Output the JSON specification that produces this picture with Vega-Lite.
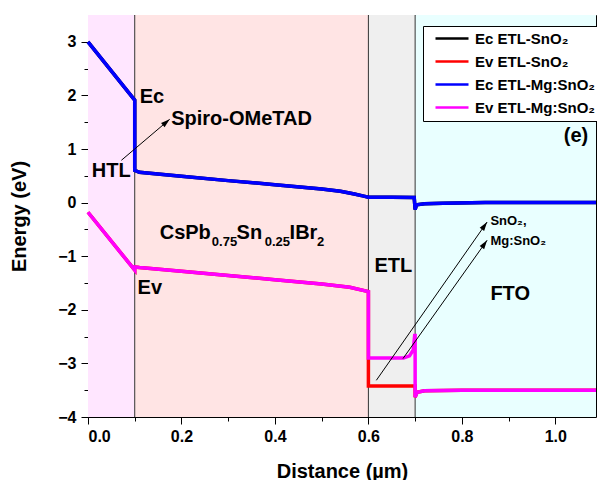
{
  "$schema": "https://vega.github.io/schema/vega-lite/v6.json",
  "width": 508,
  "height": 402,
  "autosize": {"type": "none"},
  "padding": {"left": 88, "top": 15, "right": 1, "bottom": 63},
  "background": "white",
  "config": {
    "view": {"stroke": null},
    "font": "Liberation Sans",
    "axis": {
      "labelFont": "Liberation Sans", "labelFontWeight": "bold", "labelFontSize": 16, "labelColor": "black",
      "titleFont": "Liberation Sans", "titleFontWeight": "bold", "titleFontSize": 20, "titleColor": "black",
      "tickColor": "black", "domainColor": "black", "grid": false, "zindex": 1
    },
    "legend": {
      "title": null, "orient": "none", "legendX": 335, "legendY": 11, "strokeColor": "black", "fillColor": "white", "padding": 5,
      "labelFont": "Liberation Sans", "labelFontWeight": "bold", "labelFontSize": 15, "labelColor": "black",
      "symbolType": "M0,0 L6.6,0", "symbolSize": 100, "symbolStrokeWidth": 2.5, "rowPadding": 7, "labelOffset": 32
    }
  },
  "datasets": {
    "regions": [
      {"r": "HTL", "x": 0, "x2": 0.1},
      {"r": "PVK", "x": 0.1, "x2": 0.6},
      {"r": "ETL", "x": 0.6, "x2": 0.7},
      {"r": "FTO", "x": 0.7, "x2": 1.087}
    ],
    "bounds": [{"x": 0.1}, {"x": 0.6}, {"x": 0.7}],
    "bands": [
      {"k": "ecS", "s": "Ec ETL-SnO₂", "o": 0, "x": 0, "y": 3.0},
      {"k": "ecS", "s": "Ec ETL-SnO₂", "o": 1, "x": 0.1, "y": 1.91},
      {"k": "ecS", "s": "Ec ETL-SnO₂", "o": 2, "x": 0.1, "y": 0.6},
      {"k": "ecS", "s": "Ec ETL-SnO₂", "o": 3, "x": 0.11, "y": 0.565},
      {"k": "ecS", "s": "Ec ETL-SnO₂", "o": 4, "x": 0.2, "y": 0.49},
      {"k": "ecS", "s": "Ec ETL-SnO₂", "o": 5, "x": 0.3, "y": 0.41},
      {"k": "ecS", "s": "Ec ETL-SnO₂", "o": 6, "x": 0.4, "y": 0.335},
      {"k": "ecS", "s": "Ec ETL-SnO₂", "o": 7, "x": 0.5, "y": 0.255},
      {"k": "ecS", "s": "Ec ETL-SnO₂", "o": 8, "x": 0.54, "y": 0.21},
      {"k": "ecS", "s": "Ec ETL-SnO₂", "o": 9, "x": 0.57, "y": 0.16},
      {"k": "ecS", "s": "Ec ETL-SnO₂", "o": 10, "x": 0.59, "y": 0.12},
      {"k": "ecS", "s": "Ec ETL-SnO₂", "o": 11, "x": 0.6, "y": 0.1},
      {"k": "ecS", "s": "Ec ETL-SnO₂", "o": 12, "x": 0.65, "y": 0.1},
      {"k": "ecS", "s": "Ec ETL-SnO₂", "o": 13, "x": 0.698, "y": 0.095},
      {"k": "ecS", "s": "Ec ETL-SnO₂", "o": 14, "x": 0.7, "y": -0.13},
      {"k": "ecS", "s": "Ec ETL-SnO₂", "o": 15, "x": 0.703, "y": -0.04},
      {"k": "ecS", "s": "Ec ETL-SnO₂", "o": 16, "x": 0.72, "y": -0.02},
      {"k": "ecS", "s": "Ec ETL-SnO₂", "o": 17, "x": 0.76, "y": -0.01},
      {"k": "ecS", "s": "Ec ETL-SnO₂", "o": 18, "x": 0.85, "y": 0},
      {"k": "ecS", "s": "Ec ETL-SnO₂", "o": 19, "x": 1.087, "y": 0},

      {"k": "evS", "s": "Ev ETL-SnO₂", "o": 0, "x": 0, "y": -0.18},
      {"k": "evS", "s": "Ev ETL-SnO₂", "o": 1, "x": 0.1, "y": -1.26},
      {"k": "evS", "s": "Ev ETL-SnO₂", "o": 2, "x": 0.1, "y": -1.2},
      {"k": "evS", "s": "Ev ETL-SnO₂", "o": 3, "x": 0.11, "y": -1.21},
      {"k": "evS", "s": "Ev ETL-SnO₂", "o": 4, "x": 0.2, "y": -1.28},
      {"k": "evS", "s": "Ev ETL-SnO₂", "o": 5, "x": 0.3, "y": -1.36},
      {"k": "evS", "s": "Ev ETL-SnO₂", "o": 6, "x": 0.4, "y": -1.44},
      {"k": "evS", "s": "Ev ETL-SnO₂", "o": 7, "x": 0.5, "y": -1.52},
      {"k": "evS", "s": "Ev ETL-SnO₂", "o": 8, "x": 0.56, "y": -1.58},
      {"k": "evS", "s": "Ev ETL-SnO₂", "o": 9, "x": 0.6, "y": -1.66},
      {"k": "evS", "s": "Ev ETL-SnO₂", "o": 10, "x": 0.6, "y": -3.42},
      {"k": "evS", "s": "Ev ETL-SnO₂", "o": 11, "x": 0.7, "y": -3.42},
      {"k": "evS", "s": "Ev ETL-SnO₂", "o": 12, "x": 0.7, "y": -3.63},
      {"k": "evS", "s": "Ev ETL-SnO₂", "o": 13, "x": 0.704, "y": -3.54},
      {"k": "evS", "s": "Ev ETL-SnO₂", "o": 14, "x": 0.72, "y": -3.51},
      {"k": "evS", "s": "Ev ETL-SnO₂", "o": 15, "x": 0.8, "y": -3.5},
      {"k": "evS", "s": "Ev ETL-SnO₂", "o": 16, "x": 1.087, "y": -3.5},

      {"k": "ecM", "s": "Ec ETL-Mg:SnO₂", "o": 0, "x": 0, "y": 3.0},
      {"k": "ecM", "s": "Ec ETL-Mg:SnO₂", "o": 1, "x": 0.1, "y": 1.91},
      {"k": "ecM", "s": "Ec ETL-Mg:SnO₂", "o": 2, "x": 0.1, "y": 0.6},
      {"k": "ecM", "s": "Ec ETL-Mg:SnO₂", "o": 3, "x": 0.11, "y": 0.565},
      {"k": "ecM", "s": "Ec ETL-Mg:SnO₂", "o": 4, "x": 0.2, "y": 0.49},
      {"k": "ecM", "s": "Ec ETL-Mg:SnO₂", "o": 5, "x": 0.3, "y": 0.41},
      {"k": "ecM", "s": "Ec ETL-Mg:SnO₂", "o": 6, "x": 0.4, "y": 0.335},
      {"k": "ecM", "s": "Ec ETL-Mg:SnO₂", "o": 7, "x": 0.5, "y": 0.255},
      {"k": "ecM", "s": "Ec ETL-Mg:SnO₂", "o": 8, "x": 0.54, "y": 0.21},
      {"k": "ecM", "s": "Ec ETL-Mg:SnO₂", "o": 9, "x": 0.57, "y": 0.16},
      {"k": "ecM", "s": "Ec ETL-Mg:SnO₂", "o": 10, "x": 0.59, "y": 0.12},
      {"k": "ecM", "s": "Ec ETL-Mg:SnO₂", "o": 11, "x": 0.6, "y": 0.1},
      {"k": "ecM", "s": "Ec ETL-Mg:SnO₂", "o": 12, "x": 0.65, "y": 0.1},
      {"k": "ecM", "s": "Ec ETL-Mg:SnO₂", "o": 13, "x": 0.698, "y": 0.095},
      {"k": "ecM", "s": "Ec ETL-Mg:SnO₂", "o": 14, "x": 0.7, "y": -0.13},
      {"k": "ecM", "s": "Ec ETL-Mg:SnO₂", "o": 15, "x": 0.703, "y": -0.04},
      {"k": "ecM", "s": "Ec ETL-Mg:SnO₂", "o": 16, "x": 0.72, "y": -0.02},
      {"k": "ecM", "s": "Ec ETL-Mg:SnO₂", "o": 17, "x": 0.76, "y": -0.01},
      {"k": "ecM", "s": "Ec ETL-Mg:SnO₂", "o": 18, "x": 0.85, "y": 0},
      {"k": "ecM", "s": "Ec ETL-Mg:SnO₂", "o": 19, "x": 1.087, "y": 0},

      {"k": "evM", "s": "Ev ETL-Mg:SnO₂", "o": 0, "x": 0, "y": -0.18},
      {"k": "evM", "s": "Ev ETL-Mg:SnO₂", "o": 1, "x": 0.1, "y": -1.26},
      {"k": "evM", "s": "Ev ETL-Mg:SnO₂", "o": 2, "x": 0.1, "y": -1.2},
      {"k": "evM", "s": "Ev ETL-Mg:SnO₂", "o": 3, "x": 0.11, "y": -1.21},
      {"k": "evM", "s": "Ev ETL-Mg:SnO₂", "o": 4, "x": 0.2, "y": -1.28},
      {"k": "evM", "s": "Ev ETL-Mg:SnO₂", "o": 5, "x": 0.3, "y": -1.36},
      {"k": "evM", "s": "Ev ETL-Mg:SnO₂", "o": 6, "x": 0.4, "y": -1.44},
      {"k": "evM", "s": "Ev ETL-Mg:SnO₂", "o": 7, "x": 0.5, "y": -1.52},
      {"k": "evM", "s": "Ev ETL-Mg:SnO₂", "o": 8, "x": 0.56, "y": -1.58},
      {"k": "evM", "s": "Ev ETL-Mg:SnO₂", "o": 9, "x": 0.6, "y": -1.66},
      {"k": "evM", "s": "Ev ETL-Mg:SnO₂", "o": 10, "x": 0.6, "y": -2.9},
      {"k": "evM", "s": "Ev ETL-Mg:SnO₂", "o": 11, "x": 0.65, "y": -2.9},
      {"k": "evM", "s": "Ev ETL-Mg:SnO₂", "o": 12, "x": 0.675, "y": -2.9},
      {"k": "evM", "s": "Ev ETL-Mg:SnO₂", "o": 13, "x": 0.688, "y": -2.86},
      {"k": "evM", "s": "Ev ETL-Mg:SnO₂", "o": 14, "x": 0.696, "y": -2.75},
      {"k": "evM", "s": "Ev ETL-Mg:SnO₂", "o": 15, "x": 0.699, "y": -2.48},
      {"k": "evM", "s": "Ev ETL-Mg:SnO₂", "o": 16, "x": 0.7, "y": -2.48},
      {"k": "evM", "s": "Ev ETL-Mg:SnO₂", "o": 17, "x": 0.7, "y": -3.63},
      {"k": "evM", "s": "Ev ETL-Mg:SnO₂", "o": 18, "x": 0.704, "y": -3.54},
      {"k": "evM", "s": "Ev ETL-Mg:SnO₂", "o": 19, "x": 0.72, "y": -3.51},
      {"k": "evM", "s": "Ev ETL-Mg:SnO₂", "o": 20, "x": 0.8, "y": -3.5},
      {"k": "evM", "s": "Ev ETL-Mg:SnO₂", "o": 21, "x": 1.087, "y": -3.5}
    ],
    "bigText": [
      {"t": "Ec", "x": 0.1106, "y": 1.866},
      {"t": "HTL", "x": 0.008, "y": 0.478},
      {"t": "Spiro-OMeTAD", "x": 0.178, "y": 1.455},
      {"t": "CsPb", "x": 0.1534, "y": -0.685},
      {"t": "Sn", "x": 0.318, "y": -0.685},
      {"t": "IBr", "x": 0.4314, "y": -0.685},
      {"t": "Ev", "x": 0.106, "y": -1.71},
      {"t": "ETL", "x": 0.613, "y": -1.295},
      {"t": "FTO", "x": 0.861, "y": -1.823}
    ],
    "subText": [
      {"t": "0.75", "x": 0.265, "y": -0.815},
      {"t": "0.25", "x": 0.378, "y": -0.815},
      {"t": "2", "x": 0.49, "y": -0.815}
    ],
    "midText": [
      {"t": "SnO₂,", "x": 0.861, "y": -0.424},
      {"t": "Mg:SnO₂", "x": 0.861, "y": -0.797}
    ],
    "panelText": [{"t": "(e)", "x": 1.018, "y": 1.13}],
    "arrows": [
      {"x": 0.0714, "y": 0.789, "x2": 0.1748, "y2": 1.554},
      {"x": 0.617, "y": -3.315, "x2": 0.854, "y2": -0.362},
      {"x": 0.674, "y": -2.91, "x2": 0.854, "y2": -0.703}
    ],
    "headHTL": [{"x": 0.1748, "y": 1.554}],
    "headETL": [{"x": 0.854, "y": -0.362}, {"x": 0.854, "y": -0.703}]
  },
  "resolve": {"axis": {"x": "independent", "y": "independent"}},
  "layer": [
    {
      "data": {"name": "regions"},
      "mark": {"type": "rect"},
      "encoding": {
        "x": {"field": "x", "type": "quantitative", "scale": {"domain": [0, 1.087], "nice": false, "zero": false},
          "axis": {"orient": "bottom", "values": [0, 0.2, 0.4, 0.6, 0.8, 1.0], "format": ".1f", "tickSize": 7, "labelPadding": 4, "title": "Distance (µm)", "titlePadding": 17, "domain": true}},
        "x2": {"field": "x2"},
        "fill": {"field": "r", "type": "nominal", "scale": {"domain": ["HTL", "PVK", "ETL", "FTO"], "range": ["#FFE6FF", "#FFE4E4", "#EFEFEF", "#E9FFFF"]}, "legend": null}
      }
    },
    {
      "data": {"name": "bounds"},
      "mark": {"type": "rule", "color": "#333333", "strokeWidth": 1},
      "encoding": {
        "x": {"field": "x", "type": "quantitative", "scale": {"domain": [0, 1.087], "nice": false, "zero": false},
          "axis": {"orient": "bottom", "values": [0.1, 0.3, 0.5, 0.7, 0.9], "tickSize": 4, "labels": false, "title": null, "domain": false}}
      }
    },
    {
      "data": {"name": "bands"},
      "transform": [{"filter": "datum.k == 'ecS'"}],
      "mark": {"type": "line", "strokeWidth": 3.5},
      "encoding": {
        "x": {"field": "x", "type": "quantitative", "scale": {"domain": [0, 1.087], "nice": false, "zero": false},
          "axis": {"orient": "top", "values": [0.22, 0.44, 0.66, 0.88], "tickSize": -5, "labels": false, "title": null, "domain": true}},
        "y": {"field": "y", "type": "quantitative", "scale": {"domain": [-4, 3.5], "nice": false, "zero": false},
          "axis": {"orient": "left", "values": [-4, -3, -2, -1, 0, 1, 2, 3], "tickSize": 7, "labelPadding": 5, "title": "Energy (eV)", "titlePadding": 28, "domain": true}},
        "color": {"field": "s", "type": "nominal",
          "scale": {"domain": ["Ec ETL-SnO₂", "Ev ETL-SnO₂", "Ec ETL-Mg:SnO₂", "Ev ETL-Mg:SnO₂"], "range": ["#000000", "#FF0000", "#0000FF", "#FF00FF"]},
          "legend": {"title": null}},
        "order": {"field": "o", "type": "quantitative"}
      }
    },
    {
      "data": {"name": "bands"},
      "transform": [{"filter": "datum.k == 'evS'"}],
      "mark": {"type": "line", "strokeWidth": 3.5},
      "encoding": {
        "x": {"field": "x", "type": "quantitative", "scale": {"domain": [0, 1.087], "nice": false, "zero": false},
          "axis": {"orient": "top", "values": [0.11, 0.33, 0.55, 0.77, 0.99], "tickSize": -3, "labels": false, "title": null, "domain": false}},
        "y": {"field": "y", "type": "quantitative", "scale": {"domain": [-4, 3.5], "nice": false, "zero": false},
          "axis": {"orient": "left", "values": [-3.5, -2.5, -1.5, -0.5, 0.5, 1.5, 2.5], "tickSize": 4, "labels": false, "title": null, "domain": false}},
        "color": {"field": "s", "type": "nominal",
          "scale": {"domain": ["Ec ETL-SnO₂", "Ev ETL-SnO₂", "Ec ETL-Mg:SnO₂", "Ev ETL-Mg:SnO₂"], "range": ["#000000", "#FF0000", "#0000FF", "#FF00FF"]},
          "legend": {"title": null}},
        "order": {"field": "o", "type": "quantitative"}
      }
    },
    {
      "data": {"name": "bands"},
      "transform": [{"filter": "datum.k == 'ecM'"}],
      "mark": {"type": "line", "strokeWidth": 3.5},
      "encoding": {
        "x": {"field": "x", "type": "quantitative", "scale": {"domain": [0, 1.087], "nice": false, "zero": false}, "axis": null},
        "y": {"field": "y", "type": "quantitative", "scale": {"domain": [-4, 3.5], "nice": false, "zero": false},
          "axis": {"orient": "right", "ticks": false, "labels": false, "title": null, "domain": true}},
        "color": {"field": "s", "type": "nominal",
          "scale": {"domain": ["Ec ETL-SnO₂", "Ev ETL-SnO₂", "Ec ETL-Mg:SnO₂", "Ev ETL-Mg:SnO₂"], "range": ["#000000", "#FF0000", "#0000FF", "#FF00FF"]},
          "legend": {"title": null}},
        "order": {"field": "o", "type": "quantitative"}
      }
    },
    {
      "data": {"name": "bands"},
      "transform": [{"filter": "datum.k == 'evM'"}],
      "mark": {"type": "line", "strokeWidth": 3.5},
      "encoding": {
        "x": {"field": "x", "type": "quantitative", "scale": {"domain": [0, 1.087], "nice": false, "zero": false}, "axis": null},
        "y": {"field": "y", "type": "quantitative", "scale": {"domain": [-4, 3.5], "nice": false, "zero": false}, "axis": null},
        "color": {"field": "s", "type": "nominal",
          "scale": {"domain": ["Ec ETL-SnO₂", "Ev ETL-SnO₂", "Ec ETL-Mg:SnO₂", "Ev ETL-Mg:SnO₂"], "range": ["#000000", "#FF0000", "#0000FF", "#FF00FF"]},
          "legend": {"title": null}},
        "order": {"field": "o", "type": "quantitative"}
      }
    },
    {
      "data": {"name": "arrows"},
      "mark": {"type": "rule", "color": "black", "strokeWidth": 1},
      "encoding": {
        "x": {"field": "x", "type": "quantitative", "scale": {"domain": [0, 1.087], "nice": false, "zero": false}, "axis": null},
        "y": {"field": "y", "type": "quantitative", "scale": {"domain": [-4, 3.5], "nice": false, "zero": false}, "axis": null},
        "x2": {"field": "x2"},
        "y2": {"field": "y2"}
      }
    },
    {
      "data": {"name": "headHTL"},
      "mark": {"type": "point", "shape": "M0,0 L-0.3,1 L0.3,1 Z", "filled": true, "color": "black", "opacity": 1, "size": 324, "angle": 49.7},
      "encoding": {
        "x": {"field": "x", "type": "quantitative", "scale": {"domain": [0, 1.087], "nice": false, "zero": false}, "axis": null},
        "y": {"field": "y", "type": "quantitative", "scale": {"domain": [-4, 3.5], "nice": false, "zero": false}, "axis": null}
      }
    },
    {
      "data": {"name": "headETL"},
      "mark": {"type": "point", "shape": "M0,0 L-0.3,1 L0.3,1 Z", "filled": true, "color": "black", "opacity": 1, "size": 324, "angle": 35.2},
      "encoding": {
        "x": {"field": "x", "type": "quantitative", "scale": {"domain": [0, 1.087], "nice": false, "zero": false}, "axis": null},
        "y": {"field": "y", "type": "quantitative", "scale": {"domain": [-4, 3.5], "nice": false, "zero": false}, "axis": null}
      }
    },
    {
      "data": {"name": "bigText"},
      "mark": {"type": "text", "font": "Liberation Sans", "fontWeight": "bold", "fontSize": 20, "align": "left", "baseline": "alphabetic", "color": "black"},
      "encoding": {
        "x": {"field": "x", "type": "quantitative", "scale": {"domain": [0, 1.087], "nice": false, "zero": false}, "axis": null},
        "y": {"field": "y", "type": "quantitative", "scale": {"domain": [-4, 3.5], "nice": false, "zero": false}, "axis": null},
        "text": {"field": "t"}
      }
    },
    {
      "data": {"name": "subText"},
      "mark": {"type": "text", "font": "Liberation Sans", "fontWeight": "bold", "fontSize": 13, "align": "left", "baseline": "alphabetic", "color": "black"},
      "encoding": {
        "x": {"field": "x", "type": "quantitative", "scale": {"domain": [0, 1.087], "nice": false, "zero": false}, "axis": null},
        "y": {"field": "y", "type": "quantitative", "scale": {"domain": [-4, 3.5], "nice": false, "zero": false}, "axis": null},
        "text": {"field": "t"}
      }
    },
    {
      "data": {"name": "midText"},
      "mark": {"type": "text", "font": "Liberation Sans", "fontWeight": "bold", "fontSize": 13, "align": "left", "baseline": "alphabetic", "color": "black"},
      "encoding": {
        "x": {"field": "x", "type": "quantitative", "scale": {"domain": [0, 1.087], "nice": false, "zero": false}, "axis": null},
        "y": {"field": "y", "type": "quantitative", "scale": {"domain": [-4, 3.5], "nice": false, "zero": false}, "axis": null},
        "text": {"field": "t"}
      }
    },
    {
      "data": {"name": "panelText"},
      "mark": {"type": "text", "font": "Liberation Sans", "fontWeight": "bold", "fontSize": 20, "align": "left", "baseline": "alphabetic", "color": "black"},
      "encoding": {
        "x": {"field": "x", "type": "quantitative", "scale": {"domain": [0, 1.087], "nice": false, "zero": false}, "axis": null},
        "y": {"field": "y", "type": "quantitative", "scale": {"domain": [-4, 3.5], "nice": false, "zero": false}, "axis": null},
        "text": {"field": "t"}
      }
    }
  ]
}
